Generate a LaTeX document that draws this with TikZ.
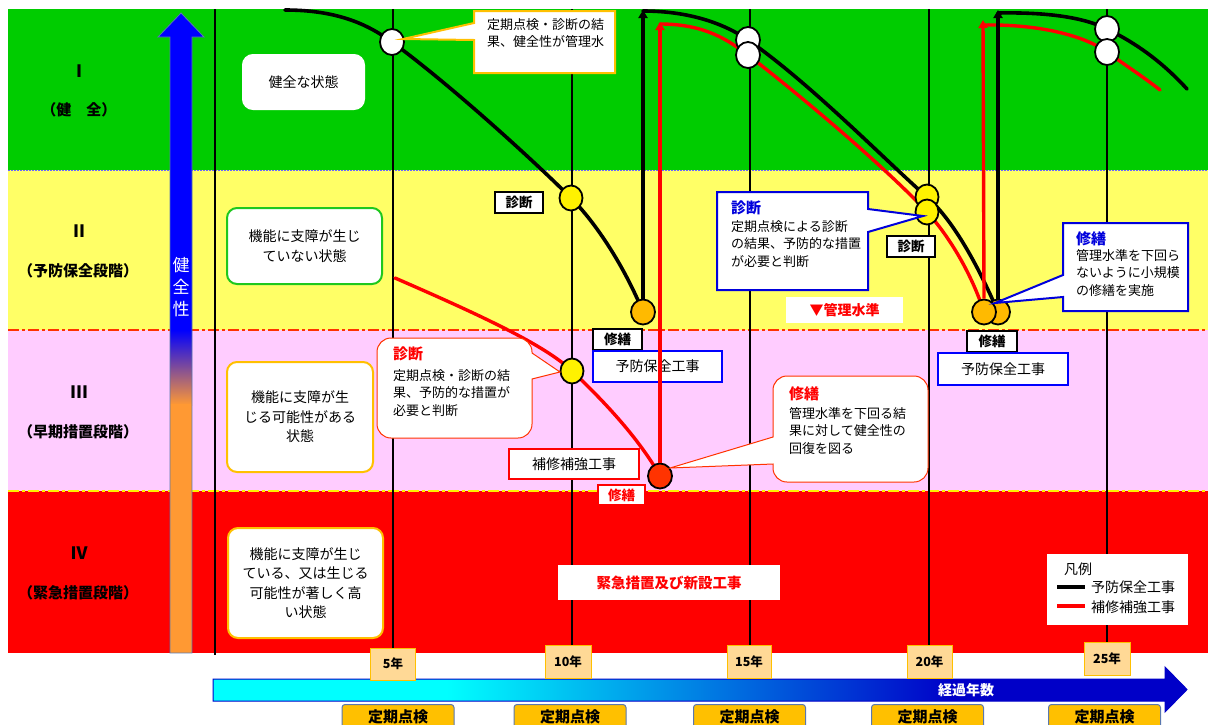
\documentclass[tikz,border=0pt]{standalone}
\usepackage{fontspec}
\setmainfont{Noto Sans CJK JP}
\usetikzlibrary{arrows.meta,shapes.geometric}
\definecolor{bandgreen}{RGB}{0,204,0}
\definecolor{bandyellow}{RGB}{255,255,102}
\definecolor{bandpink}{RGB}{255,204,255}
\definecolor{bandred}{RGB}{255,0,0}
\definecolor{orred}{RGB}{255,51,0}
\definecolor{gold}{RGB}{255,192,0}
\definecolor{circorange}{RGB}{255,186,0}
\definecolor{harrow}{RGB}{255,153,51}
\definecolor{steelb}{RGB}{90,120,175}
\definecolor{yearfill}{RGB}{255,217,150}
\definecolor{pureblue}{RGB}{0,0,255}
\definecolor{axisblue}{RGB}{0,0,200}
\definecolor{stategreen}{RGB}{30,200,30}
\definecolor{calloutblue}{RGB}{0,0,220}
\pgfdeclarehorizontalshading{axisshade}{100bp}{color(0bp)=(cyan); color(25bp)=(cyan); color(37bp)=(cyan); color(63bp)=(axisblue); color(100bp)=(axisblue)}
\begin{document}
\begin{tikzpicture}[x=1pt,y=-1pt,
  gridline/.style={line width=2pt,black},
  curveK/.style={line width=3.6pt,black,line cap=round,line join=round},
  curveR/.style={line width=3.4pt,red,line cap=round,line join=round},
  circ/.style={ellipse,draw=black,line width=1.8pt,minimum width=24pt,minimum height=26pt,inner sep=0},
  stagelbl/.style={font=\fontsize{15}{18}\selectfont\bfseries,inner sep=0},
  romanlbl/.style={font=\fontsize{17}{18}\selectfont\bfseries,inner sep=0},
  statebox/.style={rounded corners=10pt,fill=white,line width=2pt,align=center,font=\fontsize{14}{19.5}\selectfont,inner sep=0},
  tagbox/.style={fill=white,draw=black,line width=2pt,font=\fontsize{13.5}{16}\selectfont\bfseries,minimum width=48pt,minimum height=21pt,inner sep=0},
  workbox/.style={fill=white,line width=2.5pt,font=\fontsize{14}{16}\selectfont,minimum width=129pt,minimum height=31pt,inner sep=0},
  ctext/.style={anchor=north west,align=left,inner sep=0,font=\fontsize{13}{17.5}\selectfont},
  chead/.style={anchor=north west,inner sep=0,font=\fontsize{15}{17}\selectfont\bfseries},
  yeartag/.style={fill=yearfill,draw=gold,line width=1pt,minimum width=45pt,minimum height=33pt,font=\fontsize{12.5}{14}\selectfont\bfseries,inner sep=0},
  insptag/.style={fill=gold,draw=steelb,line width=1pt,rounded corners=3pt,minimum width=112pt,minimum height=30pt,anchor=north,inner sep=0},
  vtip/.style={-{Triangle[length=8pt,width=9pt]}}
]
\useasboundingbox (0,0) rectangle (1208,724);
\fill[white] (0,0) rectangle (1208,724);
% bands
\fill[bandgreen] (8,9) rectangle (1208,170);
\fill[bandyellow] (8,170) rectangle (1208,330);
\fill[bandpink] (8,330) rectangle (1208,491);
\fill[bandred] (8,491) rectangle (1208,653);
\draw[blue!60,line width=1pt,dash pattern=on 1.5pt off 1.5pt] (8,170) -- (1208,170);
\draw[orred,line width=2.5pt,dash pattern=on 11pt off 3pt on 3pt off 3pt] (8,330) -- (1208,330);
\draw[yellow,line width=2.5pt,dash pattern=on 11pt off 3pt on 3pt off 3pt] (8,491) -- (1208,491);
% grid lines
\draw[gridline] (215,9) -- (215,655);
\foreach \gx in {393,572,750,929,1107} \draw[gridline] (\gx,9) -- (\gx,650);
% stage labels
\node[romanlbl] (s1) at (79,71) {Ⅰ};
\node[stagelbl] (s1t) at (79,110) {（健　全）};
\node[romanlbl] (s2) at (79,231) {Ⅱ};
\node[stagelbl] (s2t) at (78,271) {（予防保全段階）};
\node[romanlbl] (s3) at (79,392) {Ⅲ};
\node[stagelbl] (s3t) at (78,432) {（早期措置段階）};
\node[romanlbl] (s4) at (79,553) {Ⅳ};
\node[stagelbl] (s4t) at (78,593) {（緊急措置段階）};
% health arrow
\fill[pureblue] (158,37) -- (181,13) -- (204,37) -- (192,37) -- (192,331) -- (170,331) -- (170,37) -- cycle;
\shade[top color=pureblue,bottom color=harrow] (170,330) rectangle (192,405);
\fill[harrow] (170,404) rectangle (192,653);
\draw[steelb,line width=0.8pt] (158,37) -- (181,13) -- (204,37) -- (192,37) -- (192,653) -- (170,653) -- (170,37) -- cycle;
\node[text=white,align=center,inner sep=0,font=\fontsize{17}{22}\selectfont] (hlt) at (181,287) {健\\全\\性};
% state boxes
\node[statebox,draw=white,minimum width=121pt,minimum height=54pt] (st1) at (303.5,82) {健全な状態};
\node[statebox,draw=stategreen,minimum width=155pt,minimum height=76pt] (st2) at (304.5,246) {機能に支障が生じ\\ていない状態};
\node[statebox,draw=gold,minimum width=146pt,minimum height=110pt] (st3) at (300,417) {機能に支障が生\\じる可能性がある\\状態};
\node[statebox,draw=gold,minimum width=155pt,minimum height=110pt] (st4) at (305.5,583) {機能に支障が生じ\\ている、又は生じる\\可能性が著しく高\\い状態};
% tag boxes and work boxes
\node[tagbox] (d1) at (519,202.5) {診断};
\node[tagbox,minimum width=49pt] (m1) at (617.5,339) {修繕};
\node[tagbox] (d2) at (911,246.5) {診断};
\node[tagbox,minimum width=50pt] (m2) at (992,341) {修繕};
\node[tagbox,draw=red,text=red,minimum width=47pt,minimum height=20pt] (m3) at (621.5,495) {修繕};
\node[workbox,draw=pureblue] (w1box) at (657.5,366.5) {予防保全工事};
\node[workbox,draw=pureblue,minimum width=130pt,minimum height=32pt] (w2box) at (1003,369) {予防保全工事};
\node[workbox,draw=red,minimum width=130pt,minimum height=30pt] (hbox) at (574,464) {補修補強工事};
\node[fill=white,text=red,minimum width=117pt,minimum height=26pt,inner sep=0,font=\fontsize{14}{16}\selectfont\bfseries] (kl) at (844.5,310) {▼管理水準};
\node[fill=white,text=red,minimum width=222pt,minimum height=35pt,inner sep=0,font=\fontsize{14.5}{16}\selectfont\bfseries] (kk) at (669,582.5) {緊急措置及び新設工事};
% curve anchor coordinates
\coordinate (kTop1) at (643,10);
\coordinate (rTop1) at (660,22);
\coordinate (kTop2) at (998,10);
\coordinate (rTop2) at (983,20);
% curves
\draw[curveK] (285,10) .. controls (340,10) and (370,26) .. (392,42)
  .. controls (452,86) and (535,162) .. (571,198)
  .. controls (597,224) and (625,268) .. (643,312);
\draw[curveR] (395,278) .. controls (480,315) and (545,345) .. (572,371)
  .. controls (605,402) and (640,440) .. (660,476);
\draw[curveK] (643,11) .. controls (690,11) and (725,24) .. (748,40)
  .. controls (810,83) and (885,160) .. (927,197)
  .. controls (955,222) and (980,270) .. (998,312);
\draw[curveR] (660,24) .. controls (705,24) and (728,40) .. (748,55)
  .. controls (810,103) and (890,172) .. (927,212)
  .. controls (950,237) and (972,275) .. (984,312);
\draw[curveK] (998,13) .. controls (1050,12) and (1085,18) .. (1107,29)
  .. controls (1140,45) and (1165,65) .. (1187,89);
\draw[curveR] (983,25) .. controls (1040,24) and (1085,36) .. (1107,52)
  .. controls (1125,65) and (1145,78) .. (1160,90);
% circles
\node[circ,fill=white] (cw1) at (392,42) {};
\node[circ,fill=yellow,minimum width=23pt,minimum height=25pt] (cy1) at (571,198) {};
\node[circ,fill=circorange,minimum width=24pt,minimum height=25pt] (co1) at (643,312) {};
\node[circ,fill=yellow,minimum width=23pt,minimum height=25pt] (cy2) at (572,371) {};
\node[circ,fill=orred,minimum width=24pt,minimum height=25pt] (cr1) at (660,476) {};
\node[circ,fill=white] (cw2) at (748,40) {};
\node[circ,fill=yellow,minimum width=23pt,minimum height=25pt] (cy3) at (927,197) {};
\node[circ,fill=circorange,minimum width=24pt,minimum height=25pt] (co2) at (998,312) {};
\node[circ,fill=white] (cw3) at (748,55) {};
\node[circ,fill=yellow,minimum width=23pt,minimum height=25pt] (cy4) at (927,212) {};
\node[circ,fill=circorange,minimum width=24pt,minimum height=25pt] (co3) at (984,312) {};
\node[circ,fill=white] (cw4) at (1107,29) {};
\node[circ,fill=white] (cw5) at (1107,52) {};
% vertical arrows
\draw[curveK,line cap=butt,vtip] (co1.north) -- (kTop1);
\draw[curveR,line cap=butt,vtip] (cr1.north) -- (rTop1);
\draw[curveK,line cap=butt,vtip] (co2.north) -- (kTop2);
\draw[curveR,line cap=butt,vtip] (co3.north) -- (rTop2);
% callouts
\draw[gold,fill=white,line width=2pt] (474,11) -- (615,11) -- (615,73) -- (474,73) -- (474,40) -- (403,39) -- (474,23) -- cycle;
\node[ctext] (c1t) at (487,18) {定期点検・診断の結\\果、健全性が管理水};
\draw[orred,fill=white,line width=1pt] (450,338) [rounded corners=14pt] -- (532,338) [sharp corners] -- (532,353) -- (560,372) -- (532,379) [rounded corners=14pt] -- (532,438) -- (377,438) -- (377,338) -- cycle;
\node[chead,text=red] (c2h) at (393,347) {診断};
\node[ctext] (c2t) at (393,369) {定期点検・診断の結\\果、予防的な措置が\\必要と判断};
\draw[orred,fill=white,line width=1pt] (850,376) [rounded corners=14pt] -- (928,376) -- (928,482) -- (773,482) [sharp corners] -- (773,464) -- (670,468) -- (773,437) [rounded corners=14pt] -- (773,376) -- cycle;
\node[chead,text=red] (c3h) at (789,386) {修繕};
\node[ctext] (c3t) at (789,407) {管理水準を下回る結\\果に対して健全性の\\回復を図る};
\draw[calloutblue,fill=white,line width=2pt] (717,192) -- (868,192) -- (868,209) -- (923,216) -- (868,232) -- (868,290) -- (717,290) -- cycle;
\node[chead,text=calloutblue] (c4h) at (731,201) {診断};
\node[ctext] (c4t) at (731,220) {定期点検による診断\\の結果、予防的な措置\\が必要と判断};
\draw[calloutblue,fill=white,line width=2pt] (1063,223) -- (1188,223) -- (1188,311) -- (1063,311) -- (1063,297) -- (995,303) -- (1063,275) -- cycle;
\node[chead,text=calloutblue] (c5h) at (1076,231) {修繕};
\node[ctext] (c5t) at (1076,249) {管理水準を下回ら\\ないように小規模\\の修繕を実施};
% legend
\node[fill=white,minimum width=141pt,minimum height=71pt,inner sep=0] (leg) at (1117.5,589.5) {};
\node[inner sep=0,font=\fontsize{14}{16}\selectfont] (legt) at (1078,569) {凡例};
\coordinate (lk1) at (1057,587); \coordinate (lk2) at (1085,587);
\coordinate (lr1) at (1057,606); \coordinate (lr2) at (1085,606);
\draw[black,line width=3.6pt] (lk1) -- (lk2);
\draw[red,line width=3.4pt] (lr1) -- (lr2);
\node[anchor=west,inner sep=0,font=\fontsize{14}{16}\selectfont] (legk) at (1091,587) {予防保全工事};
\node[anchor=west,inner sep=0,font=\fontsize{14}{16}\selectfont] (legr) at (1091,607) {補修補強工事};
% time axis
\shade[shading=axisshade] (213,679) -- (1165,679) -- (1165,667) -- (1187,689.5) -- (1165,712) -- (1165,701) -- (213,701) -- cycle;
\draw[axisblue,line width=1pt] (213,679) -- (1165,679) -- (1165,667) -- (1187,689.5) -- (1165,712) -- (1165,701) -- (213,701) -- cycle;
\node[text=white,inner sep=0,font=\fontsize{14}{16}\selectfont\bfseries] (axt) at (966,690) {経過年数};
\node[yeartag,minimum height=32pt] (y5) at (393,664) {5年};
\node[yeartag,minimum width=46pt] (y10) at (568,661.5) {10年};
\node[yeartag,minimum width=44pt] (y15) at (749,661.5) {15年};
\node[yeartag] (y20) at (929.5,661.5) {20年};
\node[yeartag,minimum width=46pt] (y25) at (1107,658.5) {25年};
\foreach \ix/\nm in {398/i1,570/i2,749.5/i3,927.5/i4,1104.5/i5}
  \node[insptag] (\nm) at (\ix,704) {};
\foreach \ix/\nm in {398/it1,570/it2,749.5/it3,927.5/it4,1104.5/it5}
  \node[inner sep=0,font=\fontsize{15}{17}\selectfont\bfseries] (\nm) at (\ix,717) {定期点検};
\end{tikzpicture}
\end{document}
